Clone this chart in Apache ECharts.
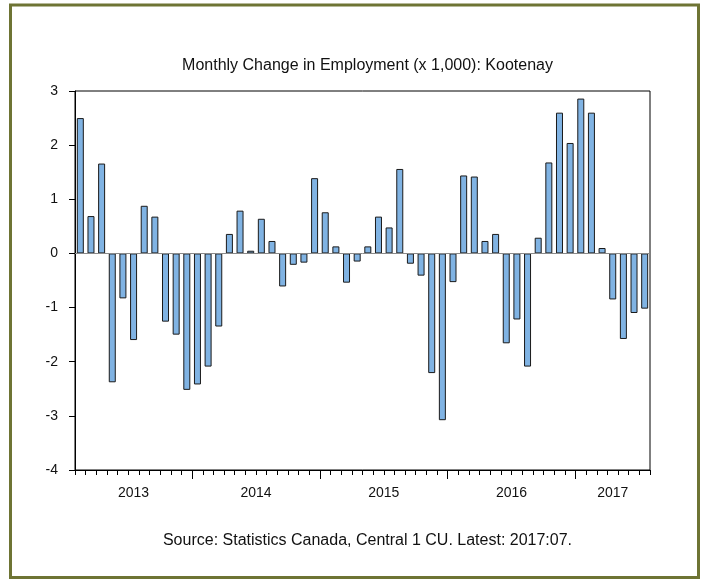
<!DOCTYPE html>
<html>
<head>
<meta charset="utf-8">
<script src="https://cdn.jsdelivr.net/npm/echarts@6/dist/echarts.min.js"></script>
<style>
html,body{margin:0;padding:0;background:#fff;}
#c{width:704px;height:579px;}
</style>
</head>
<body>
<div id="c"></div>
<script>
// Data
const titleText = 'Monthly Change in Employment (x 1,000): Kootenay';
const sourceText = 'Source: Statistics Canada, Central 1 CU. Latest: 2017:07.';
const years = ['2013', '2014', '2015', '2016', '2017'];
const months = [
  '2013:02','2013:03','2013:04','2013:05','2013:06','2013:07','2013:08','2013:09','2013:10','2013:11','2013:12',
  '2014:01','2014:02','2014:03','2014:04','2014:05','2014:06','2014:07','2014:08','2014:09','2014:10','2014:11','2014:12',
  '2015:01','2015:02','2015:03','2015:04','2015:05','2015:06','2015:07','2015:08','2015:09','2015:10','2015:11','2015:12',
  '2016:01','2016:02','2016:03','2016:04','2016:05','2016:06','2016:07','2016:08','2016:09','2016:10','2016:11','2016:12',
  '2017:01','2017:02','2017:03','2017:04','2017:05','2017:06','2017:07'
];
const changes = [
  2.50, 0.69, 1.66, -2.38, -0.83, -1.60, 0.88, 0.68, -1.26, -1.50, -2.52,
  -2.42, -2.09, -1.35, 0.36, 0.79, 0.05, 0.64, 0.23, -0.61, -0.21, -0.17, 1.39,
  0.76, 0.13, -0.54, -0.15, 0.13, 0.68, 0.48, 1.56, -0.19, -0.41, -2.21, -3.08,
  -0.53, 1.44, 1.42, 0.23, 0.36, -1.66, -1.22, -2.09, 0.29, 1.68, 2.60, 2.04,
  2.86, 2.60, 0.10, -0.85, -1.58, -1.10, -1.02
];

// derived: year label centres and year boundaries in month units
const yearCenters = {};
const yearBounds = [];
years.forEach(y => {
  const idx = months.map((m, i) => m.startsWith(y) ? i : -1).filter(i => i >= 0);
  yearCenters[y] = (idx[0] + idx[idx.length - 1] + 1) / 2;
  if (idx[0] > 0) yearBounds.push(idx[0]);
});
const labelVals = years.map(y => yearCenters[y]);

const FONT = '"Liberation Sans", Arial, sans-serif';
const GRID = {left: 75, right: 54, top: 91, bottom: 109};
const plotCenterX = GRID.left + (704 - GRID.left - GRID.right) / 2;
const chart = echarts.init(document.getElementById('c'), null, {renderer: 'canvas'});
chart.setOption({
  animation: false,
  backgroundColor: '#ffffff',
  title: [
    {text: titleText, left: plotCenterX, textAlign: 'center', top: 53, textStyle: {fontFamily: FONT, fontSize: 16, fontWeight: 'normal', color: '#111'}},
    {text: sourceText, left: plotCenterX, textAlign: 'center', top: 528, textStyle: {fontFamily: FONT, fontSize: 16, fontWeight: 'normal', color: '#111'}}
  ],
  graphic: [{
    type: 'rect', silent: true,
    shape: {x: 10.5, y: 5, width: 688, height: 572.5},
    style: {fill: 'none', stroke: '#6e7434', lineWidth: 3}
  }],
  grid: Object.assign({show: true, borderColor: '#000', borderWidth: 1, backgroundColor: 'transparent'}, GRID),
  xAxis: [
    {
      type: 'category', data: months, position: 'bottom',
      axisLine: {show: true, onZero: false, lineStyle: {color: '#000', width: 1}},
      axisTick: {show: true, interval: 0, length: 5, lineStyle: {color: '#000'}},
      axisLabel: {show: false},
      splitLine: {show: false}
    },
    {
      type: 'value', min: 0, max: months.length, position: 'bottom',
      axisLine: {show: false, onZero: false},
      axisTick: {show: true, customValues: yearBounds, length: 9, lineStyle: {color: '#000'}},
      axisLabel: {
        show: true, customValues: labelVals, margin: 16,
        fontFamily: FONT, fontSize: 14, color: '#111',
        formatter: v => { const y = years.find(k => Math.abs(yearCenters[k] - v) < 1e-6); return y || ''; }
      },
      splitLine: {show: false}
    }
  ],
  yAxis: {
    type: 'value', min: -4, max: 3, interval: 1,
    axisLine: {show: true, lineStyle: {color: '#000'}},
    axisTick: {show: true, inside: false, length: 6, lineStyle: {color: '#000'}},
    axisLabel: {fontFamily: FONT, fontSize: 14, color: '#111', margin: 17, formatter: v => String(v)},
    splitLine: {show: false}
  },
  series: [{
    type: 'bar', data: changes, xAxisIndex: 0, yAxisIndex: 0,
    barWidth: 7,
    itemStyle: {color: '#80b3e3', borderColor: '#1a1a1a', borderWidth: 1},
    markLine: {
      silent: true, symbol: 'none', label: {show: false},
      lineStyle: {color: '#8a8a8a', type: 'solid', width: 1},
      data: [{yAxis: 0}]
    }
  }]
});
</script>
</body>
</html>
